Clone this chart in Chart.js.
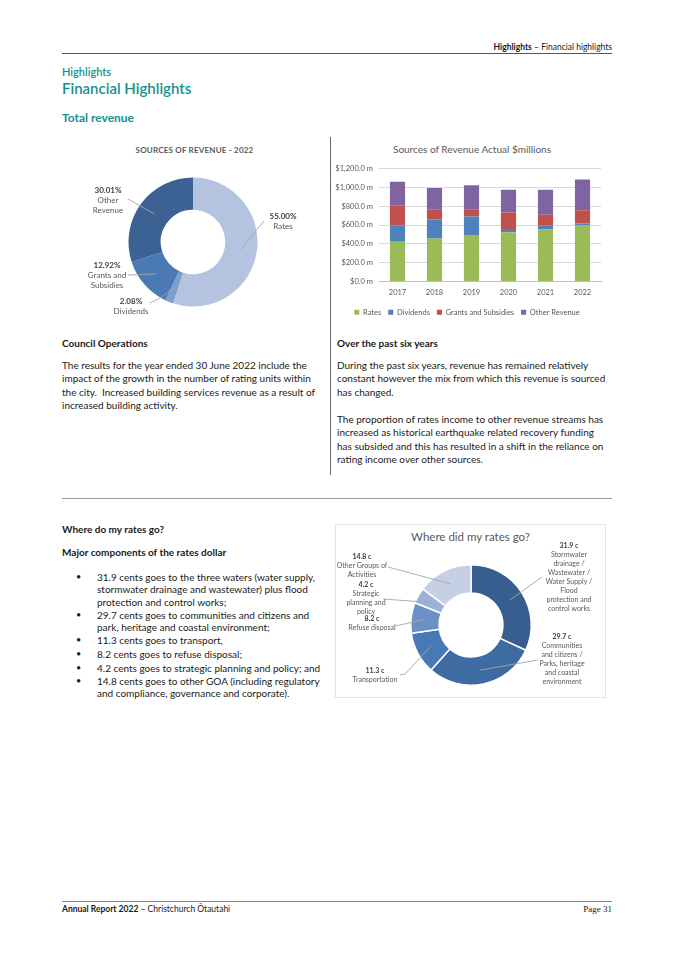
<!DOCTYPE html>
<html><head><meta charset="utf-8">
<script src="https://cdn.jsdelivr.net/npm/chart.js@4.4.1/dist/chart.umd.min.js"></script>
<style>
body{margin:0;background:#fff;}
#page{position:relative;width:675px;height:955px;overflow:hidden;font-family:Lato,"Open Sans",sans-serif;color:#1a1a1a;}
.t{position:absolute;white-space:nowrap;}
.teal{color:#17908e;}
.rule{position:absolute;height:0;}
canvas{position:absolute;}
.p{font-size:10px;line-height:13.4px;}
.li{position:absolute;left:97px;font-size:10px;line-height:12.4px;white-space:nowrap;}
.bul{position:absolute;left:76px;font-size:9px;}
</style></head>
<body><div id="page">
<div class="t" style="right:63px;top:41px;font-size:8.5px;line-height:12px;"><b>Highlights</b> – Financial highlights</div>
<div class="rule" style="left:62px;top:53px;width:550px;border-top:1px solid #555;"></div>
<div class="t teal" style="left:62px;top:65px;font-size:11px;line-height:14px;font-weight:600;">Highlights</div>
<div class="t teal" style="left:62px;top:79px;font-size:15px;line-height:19px;font-weight:600;">Financial Highlights</div>
<div class="t teal" style="left:62px;top:110px;font-size:12px;line-height:16px;font-weight:bold;">Total revenue</div>

<div class="t" style="left:62px;width:265px;top:144px;text-align:center;font-size:8px;line-height:12px;color:#595959;font-weight:bold;letter-spacing:0.2px;">SOURCES OF REVENUE - 2022</div>
<canvas id="c1" width="265" height="190" style="left:62px;top:135px;width:265px;height:190px;"></canvas>

<div class="rule" style="left:330px;top:137px;height:338px;border-left:1px solid #666;"></div>
<div class="t" style="left:333px;width:278px;top:142px;text-align:center;font-size:10px;line-height:14px;color:#595959;">Sources of Revenue Actual $millions</div>
<canvas id="c2" width="278" height="168" style="left:333px;top:158px;width:278px;height:168px;"></canvas>

<div class="t" style="left:62px;top:336px;font-size:10px;line-height:14px;font-weight:bold;">Council Operations</div>
<div class="t p" style="left:62px;top:359px;">The results for the year ended 30 June 2022 include the<br>impact of the growth in the number of rating units within<br>the city.&nbsp; Increased building services revenue as a result of<br>increased building activity.</div>

<div class="t" style="left:337px;top:336px;font-size:10px;line-height:14px;font-weight:bold;">Over the past six years</div>
<div class="t p" style="left:337px;top:359px;">During the past six years, revenue has remained relatively<br>constant however the mix from which this revenue is sourced<br>has changed.</div>
<div class="t p" style="left:337px;top:413px;">The proportion of rates income to other revenue streams has<br>increased as historical earthquake related recovery funding<br>has subsided and this has resulted in a shift in the reliance on<br>rating income over other sources.</div>

<div class="rule" style="left:62px;top:498px;width:550px;border-top:1px solid #999;"></div>

<div class="t" style="left:62px;top:522px;font-size:10px;line-height:14px;font-weight:bold;">Where do my rates go?</div>
<div class="t" style="left:62px;top:545px;font-size:10px;line-height:14px;font-weight:bold;">Major components of the rates dollar</div>
<div class="bul" style="top:571px;">•</div><div class="li" style="top:571px;">31.9 cents goes to the three waters (water supply,<br>stormwater drainage and wastewater) plus flood<br>protection and control works;</div>
<div class="bul" style="top:609px;">•</div><div class="li" style="top:609px;">29.7 cents goes to communities and citizens and<br>park, heritage and coastal environment;</div>
<div class="bul" style="top:634px;">•</div><div class="li" style="top:634px;">11.3 cents goes to transport,</div>
<div class="bul" style="top:648px;">•</div><div class="li" style="top:648px;">8.2 cents goes to refuse disposal;</div>
<div class="bul" style="top:662px;">•</div><div class="li" style="top:662px;">4.2 cents goes to strategic planning and policy; and</div>
<div class="bul" style="top:675px;">•</div><div class="li" style="top:675px;">14.8 cents goes to other GOA (including regulatory<br>and compliance, governance and corporate).</div>

<div style="position:absolute;left:335px;top:524px;width:271px;height:174px;border:1px solid #e3e3e3;box-sizing:border-box;"></div>
<div class="t" style="left:335px;width:271px;top:529px;text-align:center;font-size:11.5px;line-height:16px;color:#595959;">Where did my rates go?</div>
<canvas id="c3" width="271" height="174" style="left:335px;top:524px;width:271px;height:174px;"></canvas>

<div class="rule" style="left:62px;top:901px;width:550px;border-top:1px solid #888;"></div>
<div class="t" style="left:62px;top:903px;font-size:8.5px;line-height:12px;"><b>Annual Report 2022</b> – Christchurch Ōtautahi</div>
<div class="t" style="right:63px;top:903px;font-size:9px;line-height:12px;font-family:'Liberation Serif',serif;">Page 31</div>
</div>
<script>
// ---- Data ----
const revenueSources2022 = ['Rates', 'Dividends', 'Grants and Subsidies', 'Other Revenue'];
const revenueShares2022 = [55.00, 2.08, 12.92, 30.01];
const revenueLabelLines = [['Rates'], ['Dividends'], ['Grants and', 'Subsidies'], ['Other', 'Revenue']];

const years = ['2017', '2018', '2019', '2020', '2021', '2022'];
const ratesRevenue     = [422, 456, 494, 524, 554, 595];
const dividendsRevenue = [173, 203, 196, 34, 44, 20];
const grantsRevenue    = [216, 102, 71, 176, 112, 142];
const otherRevenue     = [247, 233, 260, 240, 264, 325];
const revenueTicks = [0, 200, 400, 600, 800, 1000, 1200];

const rateGroups = ['Three waters', 'Communities and citizens / Parks', 'Transportation', 'Refuse disposal', 'Strategic planning and policy', 'Other Groups of Activities'];
const rateCents = [31.9, 29.7, 11.3, 8.2, 4.2, 14.8];
const rateLabelLines = [
  ['Stormwater', 'drainage /', 'Wastewater /', 'Water Supply /', 'Flood', 'protection and', 'control works'],
  ['Communities', 'and citizens /', 'Parks, heritage', 'and coastal', 'environment'],
  ['Transportation'],
  ['Refuse disposal'],
  ['Strategic', 'planning and', 'policy'],
  ['Other Groups of', 'Activities']
];

// ---- Styles ----
const FONT = 'Lato, "Open Sans", sans-serif';
const revenuePieColors = ['#b4c3df', '#7f9dcc', '#4a79b4', '#3c6293'];
const ratesPieColors = ['#375e8f', '#3f6ba3', '#4878b5', '#6c8fc6', '#9db1d6', '#c5d0e5'];

function leaderPlugin(layout, values, lines, size, lh) {
  return {
    id: 'leader' + Math.random().toString(36).slice(2),
    afterDatasetsDraw(chart) {
      const ctx = chart.ctx;
      const meta = chart.getDatasetMeta(0);
      layout.forEach((it, i) => {
        const p = meta.data[i].tooltipPosition();
        ctx.save();
        ctx.strokeStyle = '#a6a6a6';
        ctx.lineWidth = 0.9;
        ctx.beginPath();
        ctx.moveTo(it.lx, it.ly);
        if (it.ex !== undefined) ctx.lineTo(it.ex, it.ey);
        ctx.lineTo(p.x, p.y);
        ctx.stroke();
        ctx.textAlign = 'center';
        ctx.textBaseline = 'middle';
        ctx.font = 'bold ' + size + 'px ' + FONT;
        ctx.fillStyle = '#404040';
        ctx.fillText(values[i], it.x, it.y);
        ctx.font = size + 'px ' + FONT;
        ctx.fillStyle = '#595959';
        lines[i].forEach((ln, k) => ctx.fillText(ln, it.x, it.y + (k + 1) * lh));
        ctx.restore();
      });
    }
  };
}

// Chart 1: doughnut revenue 2022
const revLayout = [
  {x: 221, y: 81, lx: 202, ly: 86},
  {x: 69, y: 166, lx: 88, ly: 168, ex: 98, ey: 163},
  {x: 45, y: 130, lx: 66, ly: 140},
  {x: 46, y: 55, lx: 66, ly: 64}
];
new Chart(document.getElementById('c1'), {
  type: 'doughnut',
  data: { labels: revenueSources2022, datasets: [{ data: revenueShares2022, backgroundColor: revenuePieColors, borderWidth: 0 }] },
  options: {
    responsive: false, animation: false, cutout: '50%',
    layout: { padding: { left: 66.5, right: 69.5, top: 42.5, bottom: 18.5 } },
    plugins: { legend: { display: false }, tooltip: { enabled: false } }
  },
  plugins: [leaderPlugin(revLayout, revenueShares2022.map(v => v.toFixed(2) + '%'), revenueLabelLines, 8, 10)]
});

// Chart 2: stacked bars
new Chart(document.getElementById('c2'), {
  type: 'bar',
  data: {
    labels: years,
    datasets: [
      { label: 'Rates', data: ratesRevenue, backgroundColor: '#9bbb59' },
      { label: 'Dividends', data: dividendsRevenue, backgroundColor: '#4f81bd' },
      { label: 'Grants and Subsidies', data: grantsRevenue, backgroundColor: '#c0504d' },
      { label: 'Other Revenue', data: otherRevenue, backgroundColor: '#8064a2' }
    ]
  },
  options: {
    responsive: false, animation: false,
    layout: { padding: { top: 8.7, right: 10, left: 0, bottom: 0 } },
    datasets: { bar: { barPercentage: 0.41, categoryPercentage: 1 } },
    scales: {
      x: {
        stacked: true,
        grid: { display: false, drawTicks: false },
        border: { color: '#bfbfbf' },
        ticks: { color: '#595959', font: { size: 7.5, family: FONT }, padding: 7 },
        afterFit(s) { s.height = 20; }
      },
      y: {
        stacked: true, min: 0, max: 1200,
        afterBuildTicks(s) { s.ticks = revenueTicks.map(v => ({ value: v })); },
        grid: { color: '#d9d9d9', drawTicks: false },
        border: { display: false },
        ticks: {
          color: '#595959', font: { size: 7.5, family: FONT }, padding: 6,
          callback: v => '$' + Number(v).toLocaleString('en-US', { minimumFractionDigits: 1, maximumFractionDigits: 1 }) + ' m'
        },
        afterFit(s) { s.width = 46; }
      }
    },
    plugins: {
      legend: {
        position: 'bottom',
        labels: { boxWidth: 5, boxHeight: 5, color: '#595959', font: { size: 7.5, family: FONT }, padding: 7 }
      },
      tooltip: { enabled: false }
    }
  }
});

// Chart 3: where did my rates go
const rateLayout = [
  {x: 234, y: 22, lx: 207, ly: 53},
  {x: 227, y: 113, lx: 203, ly: 136},
  {x: 40, y: 147, lx: 65, ly: 151, ex: 70, ey: 150},
  {x: 37, y: 95, lx: 60, ly: 102},
  {x: 31, y: 61, lx: 48, ly: 75},
  {x: 27, y: 33, lx: 53, ly: 43}
];
new Chart(document.getElementById('c3'), {
  type: 'doughnut',
  data: { labels: rateGroups, datasets: [{ data: rateCents, backgroundColor: ratesPieColors, borderColor: '#ffffff', borderWidth: 1.5 }] },
  options: {
    responsive: false, animation: false, cutout: '53%',
    layout: { padding: { left: 75, right: 74, top: 40, bottom: 12 } },
    plugins: { legend: { display: false }, tooltip: { enabled: false } }
  },
  plugins: [leaderPlugin(rateLayout, rateCents.map(v => v.toFixed(1) + ' c'), rateLabelLines, 7, 9)]
});
</script>
</body></html>
